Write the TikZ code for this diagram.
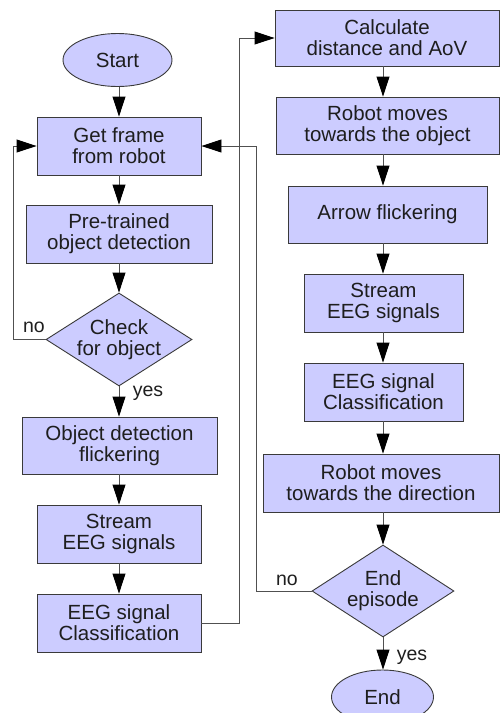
\documentclass[tikz,border=0pt]{standalone}
\usepackage{fontspec}
\setmainfont{Liberation Sans}
\usetikzlibrary{shapes.geometric,arrows.meta}
\definecolor{boxfill}{HTML}{CCCCFF}
\definecolor{boxline}{HTML}{3A3A3A}
\definecolor{lineg}{HTML}{505050}
\definecolor{txt}{HTML}{1E1E1E}
\begin{document}
\begin{tikzpicture}[x=1pt,y=-1pt,
  base/.style={draw=boxline, fill=boxfill, line width=0.9pt, align=center, inner sep=0pt,
    text=txt, font=\fontsize{20.5}{21}\selectfont},
  proc/.style={base, rectangle},
  term/.style={base, ellipse},
  dec/.style={base, diamond, aspect=1.57, inner sep=-10pt},
  flow/.style={draw=lineg, line width=0.9pt, -{Triangle[length=20pt,width=13pt,color=black]}},
  lab/.style={text=txt, font=\fontsize{19.5}{21}\selectfont, inner sep=0pt}]
\useasboundingbox (0,0) rectangle (501,713);
\begin{scope}
\clip (0,0) rectangle (501,713);
% left column
\node[term, minimum width=109pt, minimum height=53pt] (start) at (117.5,60) {Start};
\node[proc, minimum width=164pt, minimum height=58pt] (get) at (119,146) {Get frame\\from robot};
\node[proc, minimum width=186pt, minimum height=58pt] (pre) at (119,234) {Pre-trained\\object detection};
\node[dec, minimum width=146pt, minimum height=93pt] (chk) at (119,339.5) {Check\\for object};
\node[proc, minimum width=195pt, minimum height=57pt] (obj) at (119.5,445.5) {Object detection\\flickering};
\node[proc, minimum width=164pt, minimum height=58pt] (str1) at (119,534) {Stream\\EEG signals};
\node[proc, minimum width=164pt, minimum height=58pt] (cls1) at (119,623) {EEG signal\\Classification};
% right column
\node[proc, minimum width=224pt, minimum height=56pt] (calc) at (387,38) {Calculate\\distance and AoV};
\node[proc, minimum width=223pt, minimum height=57pt] (rob1) at (387.5,125.5) {Robot moves\\towards the object};
\node[proc, minimum width=199pt, minimum height=57pt] (arr) at (387.5,214.5) {Arrow flickering};
\node[proc, minimum width=159pt, minimum height=58pt] (str2) at (383.5,303) {Stream\\EEG signals};
\node[proc, minimum width=159pt, minimum height=58pt] (cls2) at (383.5,392) {EEG signal\\Classification};
\node[proc, minimum width=236pt, minimum height=58pt] (rob2) at (381,483) {Robot moves\\towards the direction};
\node[dec, minimum width=142pt, minimum height=92pt] (endep) at (383,591) {End\\episode};
\node[term, minimum width=102pt, minimum height=54pt] (end) at (382.5,697) {End};
% helper coordinates
\coordinate (lx) at (119,0);
\coordinate (rx) at (383,0);
\coordinate (nl) at (13,339.5);
\coordinate (c1) at (239,623);
\coordinate (nr) at (256,591);
% left connectors
\draw[flow] (start.south -| lx) -- (get.north -| lx);
\draw[flow] (get.south -| lx) -- (pre.north -| lx);
\draw[flow] (pre.south -| lx) -- (chk.north);
\draw[flow] (chk.west) -- (nl) |- (get.west);
\draw[flow] (chk.south) -- (obj.north -| lx);
\draw[flow] (obj.south -| lx) -- (str1.north -| lx);
\draw[flow] (str1.south -| lx) -- (cls1.north -| lx);
\draw[flow] (cls1.east) -- (c1) |- (calc.west);
% right connectors
\draw[flow] (calc.south -| rx) -- (rob1.north -| rx);
\draw[flow] (rob1.south -| rx) -- (arr.north -| rx);
\draw[flow] (arr.south -| rx) -- (str2.north -| rx);
\draw[flow] (str2.south -| rx) -- (cls2.north -| rx);
\draw[flow] (cls2.south -| rx) -- (rob2.north -| rx);
\draw[flow] (rob2.south -| rx) -- (endep.north);
\draw[flow] (endep.west) -- (nr) |- (get.east);
\draw[flow] (endep.south) -- (end.north -| endep.south);
% labels
\node[lab] (no1) at (34,327) {no};
\node[lab] (yes1) at (148,393) {yes};
\node[lab] (no2) at (287,580) {no};
\node[lab] (yes2) at (412,657) {yes};
\end{scope}
\end{tikzpicture}
\end{document}
